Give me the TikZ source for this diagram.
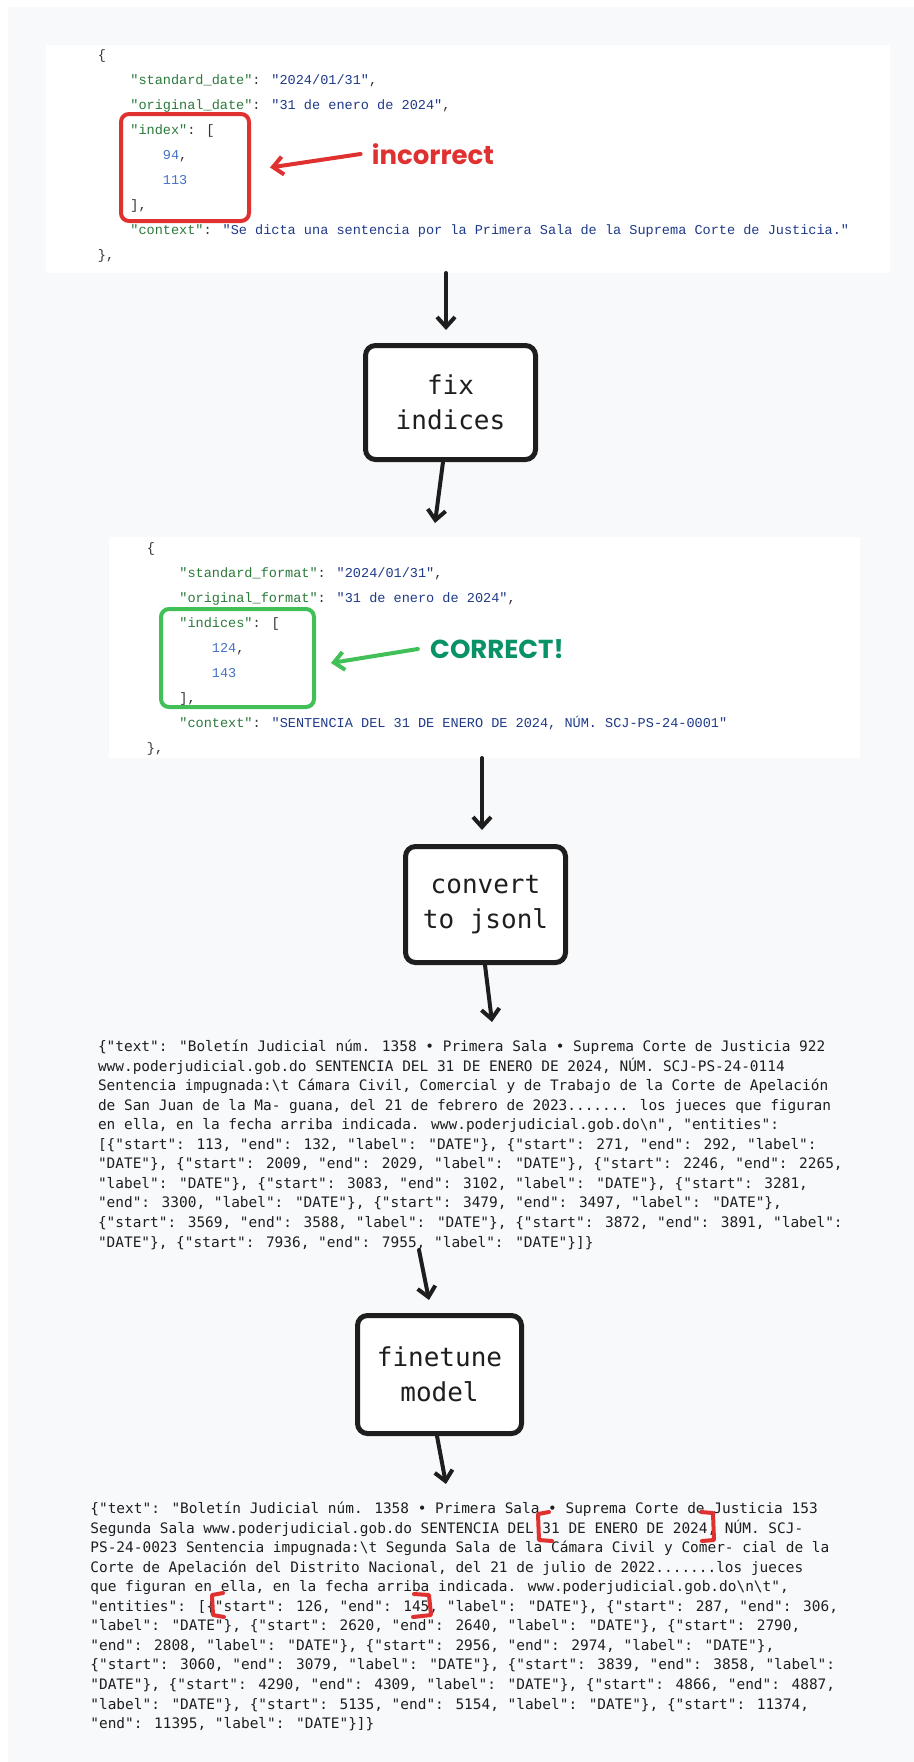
\documentclass[tikz,border=0pt]{standalone}
\usepackage{fontspec}
\usetikzlibrary{positioning,arrows.meta}
\newfontfamily\boxfont{DejaVu Sans Mono}
\newfontfamily\codefont{Liberation Mono}
\newfontfamily\handfont{Poppins}
\definecolor{inkc}{HTML}{1E1E1E}
\definecolor{pagebg}{HTML}{F8F9FA}
\definecolor{wrongred}{HTML}{E03131}
\definecolor{okgreen}{HTML}{40C057}
\definecolor{okgreentext}{HTML}{099268}
\definecolor{jsonkey}{HTML}{2B7A3B}
\definecolor{jsonstr}{HTML}{1F3A8A}
\definecolor{jsonnum}{HTML}{4673C4}
\definecolor{jsonpunct}{HTML}{333333}
\newcommand\jkey[1]{\textcolor{jsonkey}{"#1"}}
\newcommand\jstr[1]{\textcolor{jsonstr}{"#1"}}
\newcommand\jnum[1]{\textcolor{jsonnum}{#1}}
\newcommand\dotrun{.......}
\tikzset{
  stepbox/.style={draw=inkc, line width=2.5pt, rounded corners=5pt, fill=white, align=center, text=inkc, font=\boxfont\fontsize{13}{17.5}\selectfont},
  flow/.style={draw=inkc, line width=2pt, line cap=round, -{Straight Barb[length=5pt,width=9pt]}},
  panel/.style={fill=white, inner sep=0pt, outer sep=0pt},
  codeline/.style={anchor=base west, inner sep=0pt, text=jsonpunct, font=\codefont\fontsize{6.78}{12.5}\selectfont},
  jsonline/.style={anchor=base west, inner sep=0pt, text=inkc, font=\boxfont\fontsize{7.22}{9.78}\selectfont},
  markbox/.style={line width=2pt, rounded corners=4pt},
  note/.style={inner sep=0pt, font=\handfont\bfseries\fontsize{13}{15}\selectfont},
  bracket/.style={draw=wrongred, line width=2pt, line cap=round, line join=round},
}
\begin{document}
\begin{tikzpicture}[x=0.5pt, y=-0.5pt]
  \fill[white] (0,0) rectangle (914,1762);
  \useasboundingbox (0,0) rectangle (914,1762);
  \fill[pagebg] (8,7) rectangle (914,1762);

  % wrong indices
  \node[panel, minimum width=422pt, minimum height=114pt] (wrong) at (468,159) {};
  \foreach \lvl/\txt [count=\i] in {
      0/{\{},
      1/{\jkey{standard\_date}: \jstr{2024/01/31},},
      1/{\jkey{original\_date}: \jstr{31 de enero de 2024},},
      1/{\jkey{index}: [},
      2/{\jnum{94},},
      2/{\jnum{113}},
      1/{],},
      1/{\jkey{context}: \jstr{Se dicta una sentencia por la Primera Sala de la Suprema Corte de Justicia.}},
      0/{\},}}
    \node[codeline] (old-\i) at ({97.5+32.5*\lvl},{59.5+25*(\i-1)}) {\txt};
  \node[draw=wrongred, markbox, minimum width=64pt, minimum height=53.5pt] (redbox) at (185,167.5) {};
  \node[note, text=wrongred] (bad) at (433,154) {incorrect};
  \draw[flow, draw=wrongred] ([xshift=-5.5pt]bad.west) -- ([xshift=9.5pt]redbox.east);

  \node[stepbox, minimum width=85pt, minimum height=57pt] (fixbox) at (450.5,402.5) {fix\\indices};

  % fixed indices
  \node[panel, minimum width=375.5pt, minimum height=110.5pt] (right) at (484.5,647.5) {};
  \foreach \lvl/\txt [count=\i] in {
      0/{\{},
      1/{\jkey{standard\_format}: \jstr{2024/01/31},},
      1/{\jkey{original\_format}: \jstr{31 de enero de 2024},},
      1/{\jkey{indices}: [},
      2/{\jnum{124},},
      2/{\jnum{143}},
      1/{],},
      1/{\jkey{context}: \jstr{SENTENCIA DEL 31 DE ENERO DE 2024, NÚM. SCJ-PS-24-0001}},
      0/{\},}}
    \node[codeline] (new-\i) at ({146.5+32.5*\lvl},{552.5+25*(\i-1)}) {\txt};
  \node[draw=okgreen, markbox, minimum width=76.5pt, minimum height=49pt] (greenbox) at (237.5,658) {};
  \node[note, text=okgreentext] (good) at (497,649) {CORRECT!};
  \draw[flow, draw=okgreen] ([xshift=-6pt]good.west) -- ([xshift=7.5pt,yshift=-2.5pt]greenbox.east);

  \node[stepbox, minimum width=80pt, minimum height=58pt] (convbox) at (485.5,904.5) {convert\\to jsonl};

  % jsonl sample
  \foreach \txt [count=\i] in {
      {\{"text": "Boletín Judicial núm. 1358 • Primera Sala • Suprema Corte de Justicia 922},
      {www.poderjudicial.gob.do SENTENCIA DEL 31 DE ENERO DE 2024, NÚM. SCJ-PS-24-0114},
      {Sentencia impugnada:\textbackslash t Cámara Civil, Comercial y de Trabajo de la Corte de Apelación},
      {de San Juan de la Ma- guana, del 21 de febrero de 2023\dotrun{} los jueces que figuran},
      {en ella, en la fecha arriba indicada. www.poderjudicial.gob.do\textbackslash n", "entities":},
      {[\{"start": 113, "end": 132, "label": "DATE"\}, \{"start": 271, "end": 292, "label":},
      {"DATE"\}, \{"start": 2009, "end": 2029, "label": "DATE"\}, \{"start": 2246, "end": 2265,},
      {"label": "DATE"\}, \{"start": 3083, "end": 3102, "label": "DATE"\}, \{"start": 3281,},
      {"end": 3300, "label": "DATE"\}, \{"start": 3479, "end": 3497, "label": "DATE"\},},
      {\{"start": 3569, "end": 3588, "label": "DATE"\}, \{"start": 3872, "end": 3891, "label":},
      {"DATE"\}, \{"start": 7936, "end": 7955, "label": "DATE"\}]\}}}
    \node[jsonline] (conv-\i) at (97.6,{1051.5+19.55*(\i-1)}) {\txt};

  \node[stepbox, minimum width=82pt, minimum height=59pt] (tunebox) at (439.5,1374.5) {finetune\\model};

  % model output
  \foreach \txt [count=\i] in {
      {\{"text": "Boletín Judicial núm. 1358 • Primera Sala • Suprema Corte de Justicia 153},
      {Segunda Sala www.poderjudicial.gob.do SENTENCIA DEL 31 DE ENERO DE 2024, NÚM. SCJ-},
      {PS-24-0023 Sentencia impugnada:\textbackslash t Segunda Sala de la Cámara Civil y Comer- cial de la},
      {Corte de Apelación del Distrito Nacional, del 21 de julio de 2022\dotrun{}los jueces},
      {que figuran en ella, en la fecha arriba indicada. www.poderjudicial.gob.do\textbackslash n\textbackslash t",},
      {"entities": [\{"start": 126, "end": 145, "label": "DATE"\}, \{"start": 287, "end": 306,},
      {"label": "DATE"\}, \{"start": 2620, "end": 2640, "label": "DATE"\}, \{"start": 2790,},
      {"end": 2808, "label": "DATE"\}, \{"start": 2956, "end": 2974, "label": "DATE"\},},
      {\{"start": 3060, "end": 3079, "label": "DATE"\}, \{"start": 3839, "end": 3858, "label":},
      {"DATE"\}, \{"start": 4290, "end": 4309, "label": "DATE"\}, \{"start": 4866, "end": 4887,},
      {"label": "DATE"\}, \{"start": 5135, "end": 5154, "label": "DATE"\}, \{"start": 11374,},
      {"end": 11395, "label": "DATE"\}]\}}}
    \node[jsonline] (out-\i) at (90,{1513.5+19.55*(\i-1)}) {\txt};

  % red marks on the output
  \draw[bracket] (549,1512) -- (538,1514) -- (539,1540) -- (552,1541);
  \draw[bracket] (701,1512) -- (713,1513) -- (714,1540) -- (702,1541);
  \draw[bracket] (223,1593) -- (212,1595) -- (213,1615) -- (224,1617);
  \draw[bracket] (414,1594) -- (429,1595) -- (431,1615) -- (413,1617);

  % arrows
  \coordinate (into-conv) at (492,1022);
  \coordinate (from-conv) at (419,1250);
  \coordinate (into-out) at (446,1484);
  \draw[flow] ([xshift=-11pt]wrong.south) -- ([xshift=-2.25pt,yshift=6.5pt]fixbox.north);
  \draw[flow] ([xshift=-3.75pt]fixbox.south) -- ([xshift=-24.75pt,yshift=7pt]right.north);
  \draw[flow] ([xshift=-1.25pt]right.south) -- ([xshift=-1.75pt,yshift=7pt]convbox.north);
  \draw[flow] ([xshift=-0.25pt]convbox.south) -- (into-conv);
  \draw[flow] (from-conv) -- ([xshift=-5.25pt,yshift=6.5pt]tunebox.north);
  \draw[flow] ([xshift=-1.25pt]tunebox.south) -- (into-out);
\end{tikzpicture}
\end{document}
